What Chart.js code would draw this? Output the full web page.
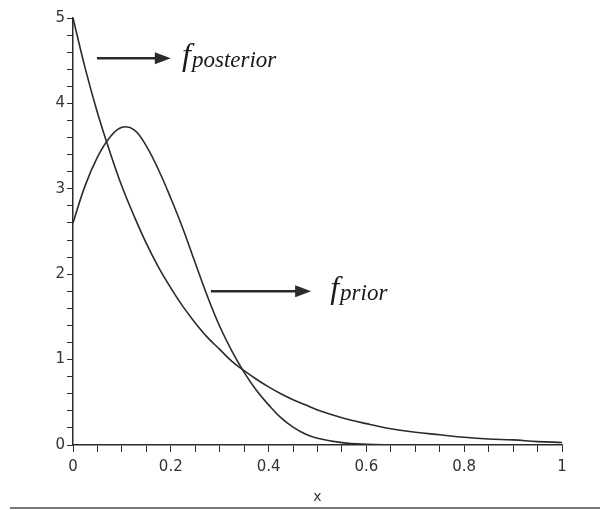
<!DOCTYPE html>
<html>
<head>
<meta charset="utf-8">
<script src="https://cdn.jsdelivr.net/npm/chart.js@4.4.1/dist/chart.umd.min.js"></script>
<style>
  html, body { margin: 0; padding: 0; background: #fff; }
  #wrap { width: 609px; height: 510px; position: relative; }
</style>
</head>
<body>
<div id="wrap"><canvas id="densityChart"></canvas></div>
<script>
// --- values ---
const xValues = [0, 0.025, 0.05, 0.075, 0.1, 0.125, 0.15, 0.175, 0.2, 0.225, 0.25, 0.275, 0.3,
                 0.325, 0.35, 0.375, 0.4, 0.425, 0.45, 0.475, 0.5, 0.55, 0.6, 0.65, 0.7, 0.75,
                 0.8, 0.85, 0.9, 0.95, 1];
const priorValues = [5.0, 4.41, 3.89, 3.44, 3.03, 2.68, 2.36, 2.08, 1.84, 1.62, 1.43, 1.26, 1.12,
                     0.98, 0.87, 0.77, 0.68, 0.6, 0.53, 0.47, 0.41, 0.32, 0.25, 0.19, 0.15, 0.12,
                     0.09, 0.07, 0.06, 0.04, 0.03];
const posteriorValues = [2.6, 3.04, 3.37, 3.6, 3.72, 3.69, 3.5, 3.22, 2.89, 2.53, 2.13, 1.74, 1.39,
                         1.1, 0.85, 0.64, 0.47, 0.32, 0.21, 0.13, 0.08, 0.028, 0.008, 0.002, 0, 0,
                         0, 0, 0, 0, 0];
const xTickLabels = ['0', '0.2', '0.4', '0.6', '0.8', '1'];
const yTickLabels = ['0', '1', '2', '3', '4', '5'];

// arrow annotations (data units), label drawn right of the tip
const arrows = [
    { x0: 0.049, x1: 0.200, y: 4.53, labelX: 0.223, sub: 'posterior' },
    { x0: 0.282, x1: 0.487, y: 1.80, labelX: 0.526, sub: 'prior' }
];

const ink = '#2b2b2b';

function toPoints(ys) {
    return xValues.map((x, i) => ({ x: x, y: ys[i] }));
}

// --- draws the arrows, the f labels and the rule at the bottom ---
const arrowPlugin = {
    id: 'arrowPlugin',
    afterDatasetsDraw(chart) {
        const ctx = chart.ctx;
        const xs = chart.scales.x;
        const ys = chart.scales.y;
        ctx.save();
        arrows.forEach(a => {
            const px0 = xs.getPixelForValue(a.x0);
            const px1 = xs.getPixelForValue(a.x1);
            const py = ys.getPixelForValue(a.y);
            ctx.strokeStyle = ink;
            ctx.fillStyle = ink;
            ctx.lineWidth = 2.5;
            ctx.beginPath();
            ctx.moveTo(px0, py);
            ctx.lineTo(px1 - 12, py);
            ctx.stroke();
            ctx.beginPath();
            ctx.moveTo(px1, py);
            ctx.lineTo(px1 - 16, py - 6);
            ctx.lineTo(px1 - 16, py + 6);
            ctx.closePath();
            ctx.fill();

            const lx = xs.getPixelForValue(a.labelX);
            ctx.fillStyle = '#1a1a1a';
            ctx.textAlign = 'left';
            ctx.textBaseline = 'alphabetic';
            ctx.font = 'italic 32px "Liberation Serif", "DejaVu Serif", serif';
            ctx.fillText('f', lx, py + 7);
            const fw = ctx.measureText('f').width;
            ctx.font = 'italic 23px "Liberation Serif", "DejaVu Serif", serif';
            ctx.fillText(a.sub, lx + fw + 1, py + 9);
        });
        // page rule under the figure
        ctx.strokeStyle = '#777';
        ctx.lineWidth = 2;
        ctx.beginPath();
        ctx.moveTo(10, 508);
        ctx.lineTo(600, 508);
        ctx.stroke();
        ctx.restore();
    }
};

const tickFont = { family: '"DejaVu Sans", "Liberation Sans", sans-serif', size: 15 };

const chartCanvas = document.getElementById('densityChart');
const densityChart = new Chart(chartCanvas.getContext('2d'), {
    type: 'scatter',
    data: {
        datasets: [
            {
                label: 'prior',
                data: toPoints(priorValues),
                showLine: true,
                borderColor: ink,
                borderWidth: 1.6,
                pointRadius: 0,
                tension: 0.4
            },
            {
                label: 'posterior',
                data: toPoints(posteriorValues),
                showLine: true,
                borderColor: ink,
                borderWidth: 1.6,
                pointRadius: 0,
                tension: 0.4
            }
        ]
    },
    options: {
        responsive: true,
        maintainAspectRatio: false,
        animation: false,
        layout: { padding: { top: 18, right: 47, bottom: 0, left: 0 } },
        plugins: {
            legend: { display: false },
            tooltip: { enabled: false }
        },
        scales: {
            x: {
                type: 'linear',
                min: 0,
                max: 1,
                afterFit: scale => { scale.height = 65; },
                border: { display: true, color: ink, width: 1.5 },
                grid: { display: true, drawOnChartArea: false, drawTicks: true, tickLength: 7, color: ink },
                ticks: {
                    stepSize: 0.05,
                    autoSkip: false,
                    maxRotation: 0,
                    padding: 6,
                    color: '#333',
                    font: tickFont,
                    callback: v => {
                        const k = v * 5;
                        if (Math.abs(k - Math.round(k)) > 1e-6) return '';
                        return xTickLabels[Math.round(k)];
                    }
                },
                title: {
                    display: true,
                    text: 'x',
                    color: '#333',
                    font: { family: '"DejaVu Sans", "Liberation Sans", sans-serif', size: 14 },
                    padding: { top: 0, bottom: 4 }
                }
            },
            y: {
                min: 0,
                max: 5,
                afterFit: scale => { scale.width = 73; },
                border: { display: true, color: ink, width: 1.5 },
                grid: { display: true, drawOnChartArea: false, drawTicks: true, tickLength: 6, color: ink },
                ticks: {
                    stepSize: 0.2,
                    autoSkip: false,
                    padding: 2,
                    color: '#333',
                    font: tickFont,
                    callback: v => {
                        if (Math.abs(v - Math.round(v)) > 1e-6) return '';
                        return yTickLabels[Math.round(v)];
                    }
                }
            }
        }
    },
    plugins: [arrowPlugin]
});
</script>
</body>
</html>
